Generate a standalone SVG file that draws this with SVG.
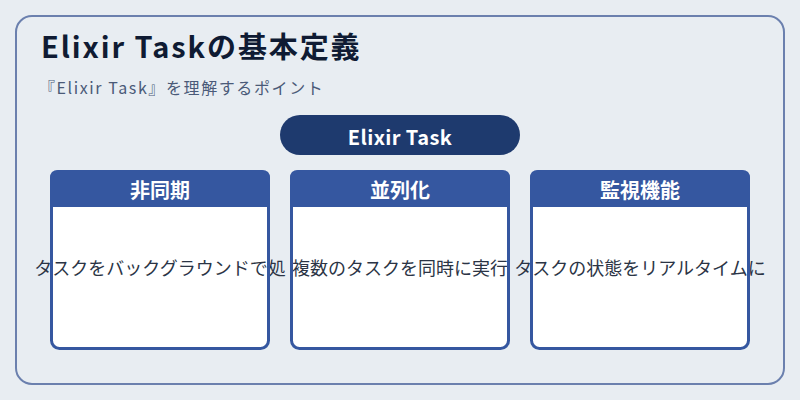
<svg xmlns="http://www.w3.org/2000/svg" width="800" height="400" viewBox="0 0 800 400">
  <style>
    .jp { font-family: "Noto Sans CJK JP", "Noto Sans", sans-serif; }
    .title { font-size: 29px; font-weight: 700; fill: #0f1b33; letter-spacing: 1.9px; }
    .sub { font-size: 16px; fill: #4a5a78; letter-spacing: 1.6px; }
    .pilltxt { font-size: 20px; font-weight: 700; fill: #ffffff; letter-spacing: 0.4px; }
    .head { fill: #3557a0; }
    .headtxt { font-size: 20px; font-weight: 700; fill: #ffffff; }
    .body { fill: #ffffff; }
    .outline { fill: none; stroke: #3557a0; stroke-width: 3; }
    .bodytxt { font-size: 18px; fill: #2b3445; }
  </style>
  <rect x="0" y="0" width="800" height="400" fill="#e8edf2"/>
  <rect x="16" y="16" width="768" height="368" rx="16" fill="#e8edf2" stroke="#6b80ae" stroke-width="2"/>
  <text class="jp title" x="41" y="57.5">Elixir Taskの基本定義</text>
  <text class="jp sub" x="39" y="93.5">『Elixir Task』を理解するポイント</text>

  <g id="root">
    <rect x="280" y="115" width="240" height="40" rx="20" fill="#1e3a6e"/>
    <text class="jp pilltxt" x="400" y="136" text-anchor="middle" dominant-baseline="central">Elixir Task</text>
  </g>

  <g id="connectors"></g>

  <g id="card-async">
    <rect class="body" x="51.5" y="171.5" width="217" height="177" rx="8"/>
    <path class="head" d="M50,207 V178 Q50,170 58,170 H262 Q270,170 270,178 V207 Z"/>
    <text class="jp headtxt" x="160" y="189" text-anchor="middle" dominant-baseline="central">非同期</text>
    <text class="jp bodytxt" x="160" y="266.5" text-anchor="middle" dominant-baseline="central">タスクをバックグラウンドで処</text>
    <rect class="outline" x="51.5" y="171.5" width="217" height="177" rx="8"/>
  </g>

  <g id="card-parallel">
    <rect class="body" x="291.5" y="171.5" width="217" height="177" rx="8"/>
    <path class="head" d="M290,207 V178 Q290,170 298,170 H502 Q510,170 510,178 V207 Z"/>
    <text class="jp headtxt" x="400" y="189" text-anchor="middle" dominant-baseline="central">並列化</text>
    <text class="jp bodytxt" x="400" y="266.5" text-anchor="middle" dominant-baseline="central">複数のタスクを同時に実行</text>
    <rect class="outline" x="291.5" y="171.5" width="217" height="177" rx="8"/>
  </g>

  <g id="card-monitor">
    <rect class="body" x="531.5" y="171.5" width="217" height="177" rx="8"/>
    <path class="head" d="M530,207 V178 Q530,170 538,170 H742 Q750,170 750,178 V207 Z"/>
    <text class="jp headtxt" x="640" y="189" text-anchor="middle" dominant-baseline="central">監視機能</text>
    <text class="jp bodytxt" x="640" y="266.5" text-anchor="middle" dominant-baseline="central">タスクの状態をリアルタイムに</text>
    <rect class="outline" x="531.5" y="171.5" width="217" height="177" rx="8"/>
  </g>
</svg>
